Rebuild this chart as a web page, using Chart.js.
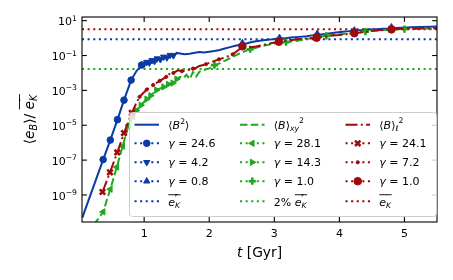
<!DOCTYPE html>
<html>
<head>
<meta charset="utf-8">
<script src="https://cdn.jsdelivr.net/npm/chart.js@4/dist/chart.umd.min.js"></script>
<style>
  html, body { margin: 0; padding: 0; background: #fff; }
</style>
</head>
<body>
<canvas id="grafico" width="453" height="280"></canvas>
<script>
// Tiempos (Gyr) y log10(<e_B>/e'_K)
const azulT = [0.05, 0.37, 0.48, 0.59, 0.69, 0.80, 0.88, 0.96, 1.00, 1.04, 1.08, 1.12, 1.16, 1.20, 1.25, 1.30, 1.35, 1.40, 1.45, 1.50, 1.55, 1.62, 1.70, 1.78, 1.85, 1.92, 2.00, 2.08, 2.16, 2.24, 2.32, 2.40, 2.46, 2.51, 2.56, 2.64, 2.72, 2.80, 2.90, 3.00, 3.08, 3.15, 3.25, 3.38, 3.50, 3.60, 3.66, 3.72, 3.84, 3.95, 4.05, 4.15, 4.23, 4.35, 4.45, 4.56, 4.68, 4.76, 4.80, 4.85, 4.95, 5.10, 5.25, 5.40, 5.50];
const azulLog = [-10.3, -6.97, -5.85, -4.68, -3.56, -2.41, -1.9, -1.55, -1.48, -1.38, -1.42, -1.28, -1.33, -1.18, -1.22, -1.08, -1.12, -0.98, -1.0, -0.85, -0.88, -0.92, -0.90, -0.84, -0.80, -0.82, -0.78, -0.74, -0.68, -0.6, -0.52, -0.44, -0.40, -0.28, -0.32, -0.24, -0.18, -0.14, -0.10, -0.06, 0.02, -0.02, 0.03, 0.07, 0.10, 0.17, 0.26, 0.20, 0.27, 0.32, 0.36, 0.40, 0.45, 0.46, 0.49, 0.51, 0.54, 0.55, 0.63, 0.58, 0.60, 0.62, 0.64, 0.65, 0.66];

const verdeT = [0.23, 0.37, 0.48, 0.58, 0.67, 0.76, 0.83, 0.88, 0.95, 1.04, 1.10, 1.19, 1.30, 1.37, 1.44, 1.50, 1.55, 1.60, 1.65, 1.70, 1.75, 1.80, 1.85, 1.90, 2.00, 2.08, 2.16, 2.26, 2.31, 2.40, 2.47, 2.55, 2.63, 2.72, 2.85, 3.03, 3.18, 3.33, 3.50, 3.66, 3.80, 3.95, 4.10, 4.23, 4.40, 4.55, 4.70, 4.85, 5.00, 5.20, 5.35, 5.50];
const verdeLog = [-10.7, -9.97, -8.67, -7.4, -6.2, -5.0, -4.5, -4.15, -3.85, -3.5, -3.3, -2.98, -2.8, -2.65, -2.58, -2.35, -2.22, -2.3, -2.1, -2.35, -1.95, -2.2, -1.93, -1.85, -1.74, -1.55, -1.45, -1.26, -1.17, -1.0, -0.87, -0.75, -0.64, -0.55, -0.43, -0.30, -0.23, -0.17, -0.05, 0.06, 0.13, 0.20, 0.25, 0.29, 0.37, 0.43, 0.47, 0.50, 0.52, 0.54, 0.55, 0.56];

const rojoT = [0.36, 0.475, 0.587, 0.69, 0.81, 0.87, 0.93, 1.04, 1.14, 1.24, 1.34, 1.39, 1.45, 1.52, 1.58, 1.65, 1.75, 1.80, 1.85, 1.95, 2.05, 2.15, 2.25, 2.36, 2.45, 2.51, 2.56, 2.63, 2.72, 2.80, 2.87, 2.95, 3.07, 3.15, 3.25, 3.38, 3.50, 3.65, 3.75, 3.90, 4.00, 4.10, 4.23, 4.35, 4.45, 4.60, 4.70, 4.80, 4.90, 5.05, 5.20, 5.35, 5.50];
const rojoLog = [-8.83, -7.7, -6.56, -5.45, -4.29, -3.8, -3.37, -2.95, -2.69, -2.45, -2.22, -2.05, -2.0, -1.85, -1.9, -1.85, -1.75, -1.70, -1.6, -1.5, -1.35, -1.22, -1.1, -0.93, -0.68, -0.47, -0.55, -0.52, -0.48, -0.42, -0.36, -0.3, -0.21, -0.17, -0.12, -0.05, -0.02, 0.02, 0.08, 0.15, 0.18, 0.22, 0.28, 0.33, 0.38, 0.45, 0.48, 0.50, 0.52, 0.54, 0.55, 0.56, 0.57];

// Tiempos donde van los marcadores de cada gamma
const azulMarcas = [[0.37, 0.48, 0.59, 0.69, 0.80, 0.96], [1.00, 1.04, 1.08, 1.12, 1.16, 1.20, 1.25, 1.30, 1.35, 1.40, 1.45], [2.51, 3.08, 3.66, 4.23, 4.80]];
const verdeMarcas = [[0.37, 0.48, 0.58, 0.67, 0.76, 0.83], [0.88, 0.95, 1.04, 1.10, 1.19, 1.30, 1.37, 1.44, 1.50], [2.08, 2.63, 3.18, 3.80, 4.40, 5.00]];
const rojoMarcas = [[0.36, 0.475, 0.587, 0.69, 0.81], [0.93, 1.04, 1.14, 1.24, 1.34, 1.45, 1.58, 1.75, 1.95, 2.15, 2.36], [2.51, 3.07, 3.65, 4.23, 4.80]];

const gammasAzul = [24.6, 4.2, 0.8];
const gammasVerde = [28.1, 14.3, 1.0];
const gammasRojo = [24.1, 7.2, 1.0];

// Lineas de referencia
const ekPrima = 0.857;
const ek = 3.2;
const fraccion = 0.02;

// Ejes
const xMin = 0.045, xMax = 5.5;
const yMinExp = -10.55, yMaxExp = 1.21;
const xTicks = [1, 2, 3, 4, 5];
const yTickExps = [-9, -7, -5, -3, -1, 1];

const AZUL = '#0b3ca3';
const VERDE = '#20a820';
const ROJO = '#a00a0a';
const FUENTE = "'DejaVu Sans', sans-serif";
const PUNTEADO = [2.1, 3.5];

function aPuntos(ts, logs) {
    return ts.map((t, i) => ({ x: t, y: Math.pow(10, logs[i]) }));
}

function serieLinea(ts, logs, color, dash, orden) {
    return { data: aPuntos(ts, logs), borderColor: color, borderWidth: 2, borderDash: dash,
             pointRadius: 0, tension: 0, fill: false, order: orden, clip: 0 };
}

function serieMarcas(ts, logs, sel, color, estilo, radio, rot, borde, orden) {
    return {
        data: sel.map(t => ({ x: t, y: Math.pow(10, logs[ts.indexOf(t)]) })),
        showLine: false, pointStyle: estilo, pointRadius: radio, pointRotation: rot,
        pointBackgroundColor: color, pointBorderColor: color, pointBorderWidth: borde,
        borderColor: color, backgroundColor: color, order: orden, clip: 0
    };
}

function serieRef(valor, color, orden) {
    return { data: [{ x: xMin, y: valor }, { x: xMax, y: valor }], borderColor: color, borderWidth: 2,
             borderDash: PUNTEADO, pointRadius: 0, order: orden, clip: 0 };
}

const azulLinea = serieLinea(azulT, azulLog, AZUL, [], 9);
const azulCirc = serieMarcas(azulT, azulLog, azulMarcas[0], AZUL, 'circle', 3.3, 0, 1, 8);
const azulAbajo = serieMarcas(azulT, azulLog, azulMarcas[1], AZUL, 'triangle', 3.6, 180, 1, 8);
const azulArriba = serieMarcas(azulT, azulLog, azulMarcas[2], AZUL, 'triangle', 3.6, 0, 1, 8);
const azulRef = serieRef(ekPrima, AZUL, 20);

const verdeLinea = serieLinea(verdeT, verdeLog, VERDE, [7.5, 3.3], 7);
const verdeIzq = serieMarcas(verdeT, verdeLog, verdeMarcas[0], VERDE, 'triangle', 3.6, 270, 1, 6);
const verdeDer = serieMarcas(verdeT, verdeLog, verdeMarcas[1], VERDE, 'triangle', 3.6, 90, 1, 6);
const verdeMas = serieMarcas(verdeT, verdeLog, verdeMarcas[2], VERDE, 'cross', 3.6, 0, 2.6, 6);
const verdeRef = serieRef(ekPrima * fraccion, VERDE, 20);

const rojoLinea = serieLinea(rojoT, rojoLog, ROJO, [12, 3.3, 2, 3.3], 5);
const rojoX = serieMarcas(rojoT, rojoLog, rojoMarcas[0], ROJO, 'crossRot', 3.8, 0, 2.6, 4);
const rojoPunto = serieMarcas(rojoT, rojoLog, rojoMarcas[1], ROJO, 'circle', 1.6, 0, 1, 4);
const rojoCirc = serieMarcas(rojoT, rojoLog, rojoMarcas[2], ROJO, 'circle', 3.8, 0, 1, 4);
const rojoRef = serieRef(ek, ROJO, 20);

// Texto con subindices, superindices y sobrelinea
function dibujarRico(ctx, partes, x, y, tam, alin) {
    const med = [];
    let fin = 0, iniPrev = 0;
    partes.forEach(p => {
        const s = (p.sub || p.sup) ? tam * 0.7 : tam;
        ctx.font = (p.it ? 'italic ' : '') + s.toFixed(2) + 'px ' + FUENTE;
        const w = ctx.measureText(p.t).width;
        const ini = p.atras ? iniPrev : fin;
        med.push({ s, w, ini });
        iniPrev = ini;
        fin = Math.max(fin, ini + w);
    });
    const x0 = alin === 'center' ? x - fin / 2 : (alin === 'right' ? x - fin : x);
    ctx.textAlign = 'left';
    ctx.textBaseline = 'alphabetic';
    partes.forEach((p, i) => {
        const m = med[i];
        ctx.font = (p.it ? 'italic ' : '') + m.s.toFixed(2) + 'px ' + FUENTE;
        const dy = p.sup ? -tam * (p.alto || 0.42) : (p.sub ? tam * 0.2 : 0);
        ctx.fillText(p.t, x0 + m.ini, y + dy);
        if (p.ol) ctx.fillRect(x0 + m.ini, y - tam * 1.08, m.w + 0.5, 0.9);
    });
}

const ePrimaK = [{ t: 'e', it: true, ol: true }, { t: '′', sup: true, ol: true, alto: 0.5 }, { t: 'K', it: true, sub: true, ol: true, atras: true }];
const eK = [{ t: 'e', it: true, ol: true }, { t: 'K', it: true, sub: true, ol: true }];
const gammaTexto = g => [{ t: 'γ', it: true }, { t: ' = ' }, { t: g.toFixed(1) }];

const leyenda = [
    [
        { ds: azulLinea, partes: [{ t: '⟨' }, { t: 'B', it: true }, { t: '2', sup: true }, { t: '⟩' }] },
        { ds: azulCirc, marca: true, partes: gammaTexto(gammasAzul[0]) },
        { ds: azulAbajo, marca: true, partes: gammaTexto(gammasAzul[1]) },
        { ds: azulArriba, marca: true, partes: gammaTexto(gammasAzul[2]) },
        { ds: azulRef, partes: ePrimaK }
    ],
    [
        { ds: verdeLinea, partes: [{ t: '⟨' }, { t: 'B', it: true }, { t: '⟩' }, { t: 'xy', it: true, sub: true }, { t: '2', sup: true, alto: 0.55 }] },
        { ds: verdeIzq, marca: true, partes: gammaTexto(gammasVerde[0]) },
        { ds: verdeDer, marca: true, partes: gammaTexto(gammasVerde[1]) },
        { ds: verdeMas, marca: true, partes: gammaTexto(gammasVerde[2]) },
        { ds: verdeRef, partes: [{ t: '2% ' }].concat(ePrimaK) }
    ],
    [
        { ds: rojoLinea, partes: [{ t: '⟨' }, { t: 'B', it: true }, { t: '⟩' }, { t: 'ℓ', it: true, sub: true }, { t: '2', sup: true, alto: 0.55 }] },
        { ds: rojoX, marca: true, partes: gammaTexto(gammasRojo[0]) },
        { ds: rojoPunto, marca: true, partes: gammaTexto(gammasRojo[1]) },
        { ds: rojoCirc, marca: true, partes: gammaTexto(gammasRojo[2]) },
        { ds: rojoRef, partes: eK }
    ]
];

const pluginMarco = {
    id: 'marco',
    afterDatasetsDraw(chart) {
        const { ctx, chartArea: a, scales } = chart;
        const sx = scales.x, sy = scales.y;
        ctx.save();
        ctx.setLineDash([]);
        ctx.strokeStyle = '#000';
        ctx.fillStyle = '#000';
        ctx.lineWidth = 1.1;
        ctx.strokeRect(a.left, a.top, a.right - a.left, a.bottom - a.top);

        const linea = (x1, y1, x2, y2) => { ctx.beginPath(); ctx.moveTo(x1, y1); ctx.lineTo(x2, y2); ctx.stroke(); };
        const largo = 4.9;

        // Marcas del eje x y sus etiquetas
        ctx.font = '11px ' + FUENTE;
        ctx.textAlign = 'center';
        ctx.textBaseline = 'alphabetic';
        xTicks.forEach(v => {
            const px = sx.getPixelForValue(v);
            linea(px, a.bottom, px, a.bottom - largo);
            linea(px, a.top, px, a.top + largo);
            ctx.fillText(String(v), px, a.bottom + 14.7);
        });

        // Marcas del eje y (potencias de diez)
        yTickExps.forEach(e => {
            const py = sy.getPixelForValue(Math.pow(10, e));
            linea(a.left, py, a.left + largo, py);
            linea(a.right, py, a.right - largo, py);
            const exp = e < 0 ? '−' + Math.abs(e) : String(e);
            dibujarRico(ctx, [{ t: '10' }, { t: exp, sup: true }], a.left - 5, py + 4.7, 11, 'right');
        });

        // Titulos de los ejes
        dibujarRico(ctx, [{ t: 't', it: true }, { t: ' [Gyr]' }], (a.left + a.right) / 2, 256.5, 13.8, 'center');
        ctx.save();
        ctx.translate(34, (a.top + a.bottom) / 2);
        ctx.rotate(-Math.PI / 2);
        dibujarRico(ctx, [{ t: '⟨' }, { t: 'e', it: true }, { t: 'B', it: true, sub: true }, { t: '⟩' }, { t: '/ ' }].concat(ePrimaK), 0, 0, 13.8, 'center');
        ctx.restore();

        // Leyenda en tres columnas
        const caja = { x: 129, y: 112, w: 307, h: 104 };
        ctx.beginPath();
        ctx.roundRect(caja.x + 0.5, caja.y + 0.5, caja.w, caja.h, 3);
        ctx.fillStyle = 'rgba(255,255,255,0.8)';
        ctx.fill();
        ctx.strokeStyle = '#cccccc';
        ctx.lineWidth = 1;
        ctx.stroke();

        const filas = [124.7, 143.3, 162.3, 181.2, 201.2];
        const colX = [134.5, 240, 345.5];
        const largoMango = 24.5;
        leyenda.forEach((col, c) => {
            col.forEach((item, f) => {
                const y = filas[f];
                const x = colX[c];
                const ds = item.ds;
                ctx.strokeStyle = ds.borderColor;
                ctx.fillStyle = ds.borderColor;
                ctx.lineWidth = 2;
                ctx.setLineDash(item.marca ? PUNTEADO : (ds.borderDash || []));
                linea(x, y, x + largoMango, y);
                ctx.setLineDash([]);
                if (item.marca) {
                    ctx.lineWidth = ds.pointBorderWidth;
                    Chart.helpers.drawPoint(ctx, { pointStyle: ds.pointStyle, rotation: ds.pointRotation, radius: ds.pointRadius, borderWidth: ds.pointBorderWidth }, x + largoMango / 2, y);
                }
                ctx.fillStyle = '#000';
                dibujarRico(ctx, item.partes, x + 33.8, y + (f === 4 ? 5 : 4), 11, 'left');
            });
        });
        ctx.restore();
    }
};

new Chart(document.getElementById('grafico').getContext('2d'), {
    type: 'line',
    data: {
        datasets: [azulLinea, azulCirc, azulAbajo, azulArriba, azulRef,
                   verdeLinea, verdeIzq, verdeDer, verdeMas, verdeRef,
                   rojoLinea, rojoX, rojoPunto, rojoCirc, rojoRef]
    },
    options: {
        responsive: false,
        animation: false,
        devicePixelRatio: 1,
        events: [],
        layout: { padding: { left: 82, right: 16, top: 17, bottom: 58 } },
        scales: {
            x: { type: 'linear', min: xMin, max: xMax, display: false },
            y: { type: 'logarithmic', min: Math.pow(10, yMinExp), max: Math.pow(10, yMaxExp), display: false }
        },
        plugins: { legend: { display: false }, tooltip: { enabled: false } }
    },
    plugins: [pluginMarco]
});
</script>
</body>
</html>
